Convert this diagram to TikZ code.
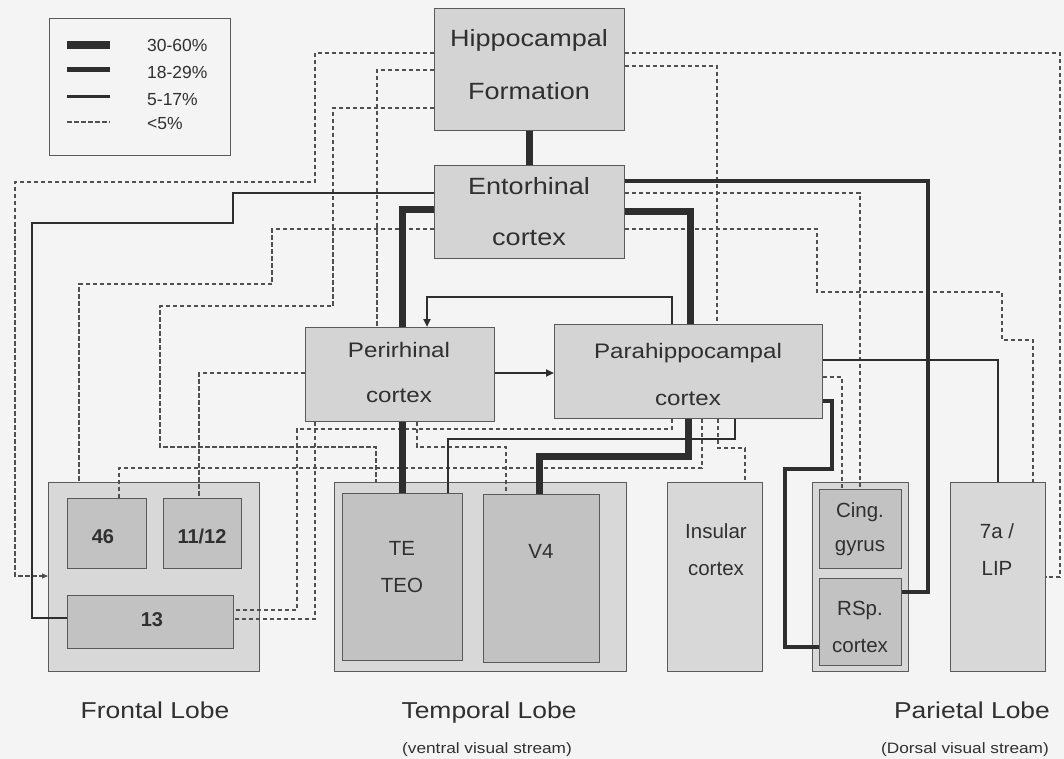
\documentclass[tikz,border=0pt]{standalone}
\usepackage{fontspec}
\setmainfont{Liberation Sans}[FakeStretch=1.15]
\newfontfamily\plainsans{Liberation Sans}
\usetikzlibrary{arrows.meta}
\definecolor{bgc}{HTML}{F4F4F4}
\definecolor{boxc}{HTML}{D4D4D4}
\definecolor{lobec}{HTML}{D8D8D8}
\definecolor{inc}{HTML}{C2C2C2}
\definecolor{bordc}{HTML}{5A5A5A}
\definecolor{linec}{HTML}{2E2E2E}
\definecolor{dashc}{HTML}{505050}
\definecolor{textc}{HTML}{303030}
\begin{document}
\begin{tikzpicture}[x=1pt,y=-1pt,
  bx/.style={draw=bordc, fill=boxc, line width=0.9pt, inner sep=0, anchor=north west},
  lobe/.style={bx, fill=lobec},
  inbx/.style={bx, fill=inc},
  lab/.style={anchor=base, inner sep=0, text=textc},
  fbig/.style={lab, font=\fontsize{23.5}{24}\selectfont},
  fmid/.style={lab, font=\fontsize{21}{22}\selectfont},
  fsm/.style={lab, font=\plainsans\fontsize{20.5}{21}\selectfont},
  fsmb/.style={lab, font=\plainsans\fontsize{20}{21}\selectfont\bfseries},
  flobe/.style={lab, font=\fontsize{23}{24}\selectfont},
  fsub/.style={lab, font=\fontsize{15}{16}\selectfont},
  fleg/.style={anchor=base west, inner sep=0, text=textc, font=\plainsans\fontsize{17.5}{18}\selectfont},
  wa/.style={draw=linec, line width=7pt},
  wb/.style={draw=linec, line width=4.5pt},
  wc/.style={draw=linec, line width=2.6pt},
  wd/.style={draw=linec, line width=2pt},
  dsh/.style={draw=dashc, line width=1.2pt, dash pattern=on 4.5pt off 2.5pt},
  tip/.style={-{Triangle[length=8pt,width=7pt]}},
  tipsm/.style={-{Triangle[length=6pt,width=5pt]}}
]
\fill[bgc] (0,0) rectangle (1064,759);
\useasboundingbox (0,0) rectangle (1064,759);

% legend
\node[bx, fill=bgc, minimum width=181, minimum height=137] (legend) at (49,18) {};
\coordinate (l1a) at (67,45);  \coordinate (l1b) at (110,45);
\coordinate (l2a) at (67,70);  \coordinate (l2b) at (110,70);
\coordinate (l3a) at (67,97);  \coordinate (l3b) at (110,97);
\coordinate (l4a) at (67,122); \coordinate (l4b) at (110,122);
\draw[draw=linec, line width=8pt] (l1a) -- (l1b);
\draw[draw=linec, line width=5pt] (l2a) -- (l2b);
\draw[draw=linec, line width=3pt] (l3a) -- (l3b);
\draw[dsh] (l4a) -- (l4b);
\node[fleg] (lt1) at (147,52) {30-60\%};
\node[fleg] (lt2) at (147,79) {18-29\%};
\node[fleg] (lt3) at (147,106) {5-17\%};
\node[fleg] (lt4) at (147,130) {<5\%};

% main boxes
\node[bx, minimum width=190, minimum height=122] (hf) at (434,8) {};
\node[bx, minimum width=190, minimum height=93] (ec) at (434,165) {};
\node[bx, minimum width=189, minimum height=94] (peri) at (305,327) {};
\node[bx, minimum width=268, minimum height=94] (ph) at (554,324) {};

% lobes
\node[lobe, minimum width=211, minimum height=189] (frontal) at (48,482) {};
\node[inbx, minimum width=79, minimum height=70] (a46) at (67,498) {};
\node[inbx, minimum width=78, minimum height=70] (a1112) at (163,498) {};
\node[inbx, minimum width=166, minimum height=53] (a13) at (67,595) {};
\node[lobe, minimum width=292, minimum height=189] (temporal) at (334,482) {};
\node[inbx, minimum width=120, minimum height=167] (te) at (342,493) {};
\node[inbx, minimum width=116, minimum height=168] (v4) at (483,494) {};
\node[lobe, minimum width=95, minimum height=189] (insular) at (667,482) {};
\node[lobe, minimum width=96, minimum height=189] (cingout) at (812,482) {};
\node[inbx, minimum width=82, minimum height=79] (cing) at (819,489) {};
\node[inbx, minimum width=82, minimum height=87] (rsp) at (819,578) {};
\node[lobe, minimum width=95, minimum height=189] (lip) at (950,482) {};

% texts
\node[fbig] (thf1) at (529,47) {Hippocampal};
\node[fbig] (thf2) at (529,100) {Formation};
\node[fbig] (tec1) at (529,195) {Entorhinal};
\node[fbig] (tec2) at (529,245) {cortex};
\node[fmid] (tpr1) at (399,357) {Perirhinal};
\node[fmid] (tpr2) at (399,402) {cortex};
\node[fmid] (tph1) at (688,358) {Parahippocampal};
\node[fmid] (tph2) at (688,405) {cortex};
\node[fsmb] (t46) at (103,543) {46};
\node[fsmb] (t1112) at (202,543) {11/12};
\node[fsmb] (t13) at (152,626) {13};
\node[fsm] (tte1) at (402,555) {TE};
\node[fsm] (tte2) at (402,592) {TEO};
\node[fsm] (tv4) at (541,558) {V4};
\node[fsm] (tin1) at (716,538) {Insular};
\node[fsm] (tin2) at (716,575) {cortex};
\node[fsm] (tcg1) at (860,517) {Cing.};
\node[fsm] (tcg2) at (860,551) {gyrus};
\node[fsm] (trs1) at (860,615) {RSp.};
\node[fsm] (trs2) at (860,652) {cortex};
\node[fsm] (tlip1) at (997,538) {7a /};
\node[fsm] (tlip2) at (997,575) {LIP};
\node[flobe] (tfront) at (155,718) {Frontal Lobe};
\node[flobe] (ttemp) at (489,718) {Temporal Lobe};
\node[fsub] (tventral) at (487,753) {(ventral visual stream)};
\node[flobe] (tpar) at (972,718) {Parietal Lobe};
\node[fsub] (tdorsal) at (965,753) {(Dorsal visual stream)};

% dashed connectors (<5%)
\draw[dsh, tipsm] (hf.west |- 0,53) -| (315,182) -| (15,576) -- (frontal.west |- 0,576);
\draw[dsh] (hf.west |- 0,70) -| (peri.north -| 377,0);
\draw[dsh] (hf.west |- 0,108) -| (333,306) -| (160,447) -| (temporal.north -| 376,0);
\draw[dsh] (hf.east |- 0,53) -| (1060,577) -- (lip.east |- 0,577);
\draw[dsh] (hf.east |- 0,66) -| (ph.north -| 717,0);
\draw[dsh] (ec.west |- 0,229) -| (272,284) -| (frontal.north -| 79,0);
\draw[dsh] (ec.east |- 0,193) -| (cing.north -| 860,0);
\draw[dsh] (ec.east |- 0,229) -| (817,292) -| (1002,340) -| (lip.north -| 1033,0);
\draw[dsh] (peri.west |- 0,373) -| (a1112.north -| 199,0);
\draw[dsh] (peri.south -| 315,0) |- (a13.east |- 0,619);
\draw[dsh] (ph.south -| 672,0) |- (297,429) |- (a13.east |- 0,610);
\draw[dsh] (ph.south -| 702,0) |- (119,468) -- (a46.north -| 119,0);
\draw[dsh] (ph.south -| 718,0) |- (745,448) -- (insular.north -| 745,0);
\draw[dsh] (ph.east |- 0,377) -| (cing.north -| 842,0);
\draw[dsh] (peri.south -| 417,0) |- (506,447) -- (v4.north -| 506,0);

% solid connectors
\draw[wd] (ph.south -| 735,0) |- (448,439) -- (te.north -| 448,0);
\draw[wc] (ec.west |- 0,193) -| (233,223) -| (32,618) -- (a13.west |- 0,618);
\draw[wc] (ph.east |- 0,360) -| (lip.north -| 998,0);
\draw[wc, tip] (ph.north -| 672,0) |- (427,297) -- (peri.north -| 427,0);
\draw[wd, tip] (peri.east |- 0,373) -- (ph.west |- 0,373);
\draw[wb] (ec.east |- 0,181) -| (928,592) -- (rsp.east |- 0,592);
\draw[wb] (ph.east |- 0,401) -| (832,469) -| (785,647) -- (rsp.west |- 0,647);
\draw[wa] (hf.south) -- (ec.north);
\draw[wa] (ec.west |- 0,210) -| (peri.north -| 402,0);
\draw[wa] (ec.east |- 0,212) -| (ph.north -| 690,0);
\draw[wa] (peri.south -| 402,0) -- (te.north -| 402,0);
\draw[wa] (ph.south -| 688,0) |- (539,456) -- (v4.north -| 539,0);
\end{tikzpicture}
\end{document}
